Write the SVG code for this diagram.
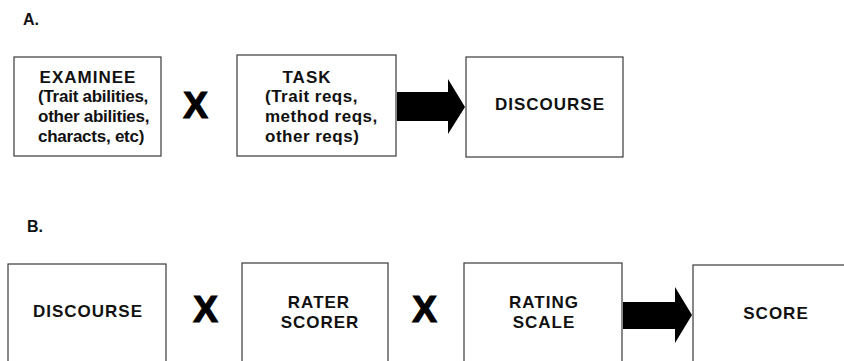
<svg xmlns="http://www.w3.org/2000/svg" width="844" height="361" viewBox="0 0 844 361">
<style>
  .box { fill: #ffffff; stroke: #3a3a3a; stroke-width: 1.2; }
  .t { font-family: "Liberation Sans", Arial, sans-serif; font-weight: bold; fill: #111; }
  .cap { font-size: 17px; letter-spacing: 1px; }
  .low { font-size: 17px; }
  .x { font-family: "Liberation Sans", Arial, sans-serif; font-weight: bold; font-size: 37px; fill: #000; stroke: #000; stroke-width: 1.2; text-anchor: middle; }
  .lab { font-size: 16px; }
  .arrow { fill: #000; }
</style>
<rect width="844" height="361" fill="#ffffff"/>

<text class="t lab" x="23" y="25">A.</text>
<text class="t lab" x="27" y="232">B.</text>

<g id="examinee">
  <rect class="box" x="14" y="57" width="147" height="99"/>
  <text class="t cap" x="88" y="83" text-anchor="middle">EXAMINEE</text>
  <text class="t low" x="38" y="102" letter-spacing="-0.25">(Trait abilities,</text>
  <text class="t low" x="38" y="122" letter-spacing="-0.25">other abilities,</text>
  <text class="t low" x="38" y="142" letter-spacing="-0.25">characts, etc)</text>
</g>

<g id="task">
  <rect class="box" x="237" y="55" width="159" height="101"/>
  <text class="t cap" x="307" y="83" text-anchor="middle">TASK</text>
  <text class="t low" x="265" y="102" letter-spacing="0.5">(Trait reqs,</text>
  <text class="t low" x="265" y="122" letter-spacing="0.5">method reqs,</text>
  <text class="t low" x="265" y="142" letter-spacing="0.5">other reqs)</text>
</g>

<g id="discourseA">
  <rect class="box" x="466" y="57" width="157" height="100"/>
  <text class="t cap" x="550" y="110" text-anchor="middle">DISCOURSE</text>
</g>

<g id="discourseB">
  <rect class="box" x="8" y="264" width="158" height="130"/>
  <text class="t cap" x="88" y="317" text-anchor="middle">DISCOURSE</text>
</g>

<g id="rater">
  <rect class="box" x="242" y="263" width="146" height="130"/>
  <text class="t cap" x="319" y="308" text-anchor="middle">RATER</text>
  <text class="t cap" x="320" y="328" text-anchor="middle">SCORER</text>
</g>

<g id="scale">
  <rect class="box" x="464" y="263" width="158" height="130"/>
  <text class="t cap" x="544" y="308" text-anchor="middle">RATING</text>
  <text class="t cap" x="544" y="328" text-anchor="middle">SCALE</text>
</g>

<g id="score">
  <rect class="box" x="693" y="265" width="170" height="130"/>
  <text class="t cap" x="776" y="319" text-anchor="middle">SCORE</text>
</g>

<g id="connectors">
  <text class="x" x="195.5" y="118">X</text>
  <text class="x" x="205.5" y="322">X</text>
  <text class="x" x="424.5" y="322">X</text>
  <polygon class="arrow" points="397,92 448,92 448,79 465,107 448,134 448,121 397,121"/>
  <polygon class="arrow" points="623,302 675,302 675,287 692,315 675,343 675,329 623,329"/>
</g>
</svg>
